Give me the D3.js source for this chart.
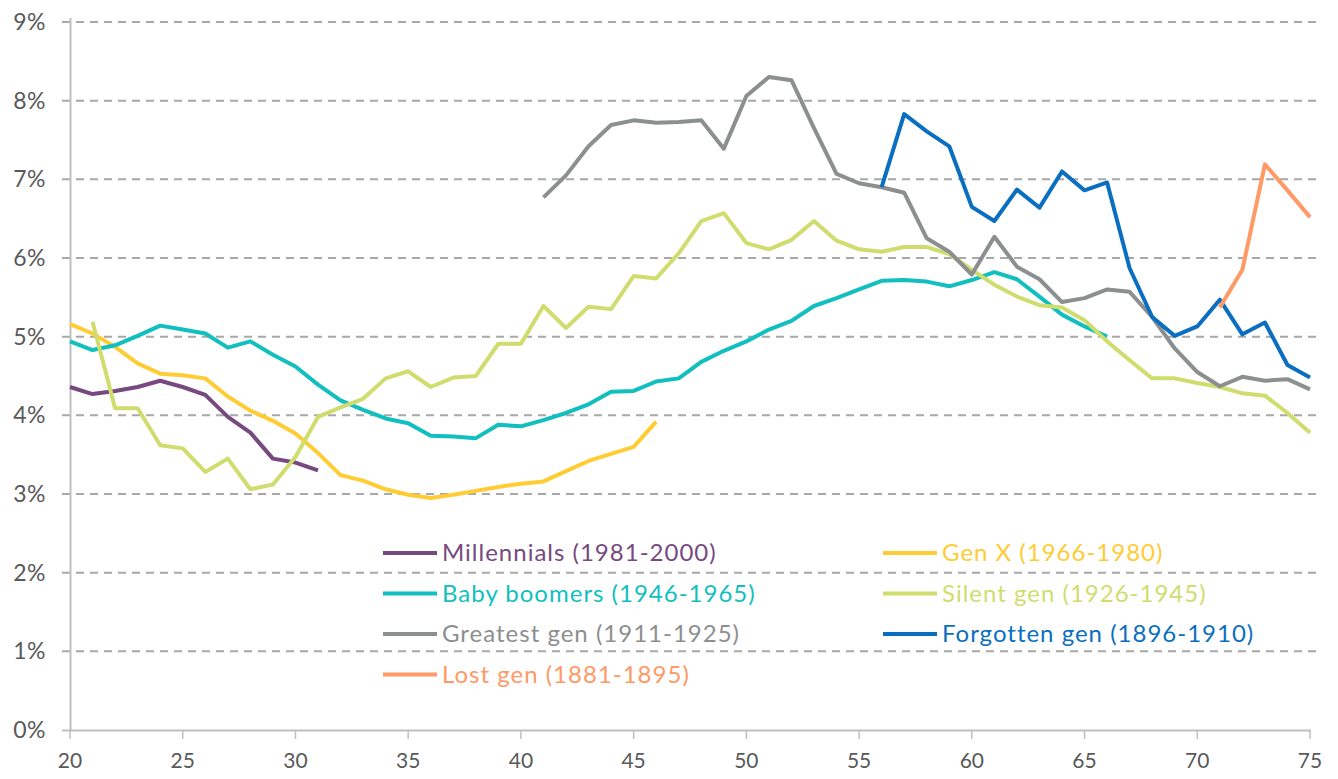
<!DOCTYPE html>
<html>
<head>
<meta charset="utf-8">
<script src="https://cdn.jsdelivr.net/npm/d3@7"></script>
<style>
  body { margin: 0; background: #fff; }
  svg text { font-family: Lato, "Open Sans", sans-serif; }
</style>
</head>
<body>
<div id="chart"></div>
<script>
// ages on the x axis, values are % per generation
var xTicks = [20, 25, 30, 35, 40, 45, 50, 55, 60, 65, 70, 75];
var yTicks = [0, 1, 2, 3, 4, 5, 6, 7, 8, 9];

var millennialsStart = 20;
var millennials = [4.36, 4.27, 4.31, 4.36, 4.44, 4.36, 4.26, 3.98, 3.78, 3.45, 3.40, 3.30];

var genXStart = 20;
var genX = [5.16, 5.04, 4.87, 4.66, 4.53, 4.51, 4.47, 4.24, 4.06, 3.93, 3.77, 3.52, 3.24, 3.17, 3.06, 2.99,
  2.95, 2.99, 3.04, 3.09, 3.13, 3.16, 3.29, 3.42, 3.51, 3.60, 3.92];

var boomersStart = 20;
var boomers = [4.94, 4.83, 4.89, 5.01, 5.14, 5.09, 5.04, 4.86, 4.94, 4.77, 4.62, 4.39, 4.19, 4.07, 3.96, 3.90,
  3.74, 3.73, 3.71, 3.88, 3.86, 3.94, 4.03, 4.14, 4.30, 4.31, 4.43, 4.47, 4.68, 4.82, 4.94, 5.09, 5.20,
  5.39, 5.49, 5.60, 5.71, 5.72, 5.70, 5.64, 5.72, 5.82, 5.73, 5.51, 5.28, 5.13, 5.00];

var silentStart = 21;
var silent = [5.19, 4.09, 4.09, 3.62, 3.58, 3.28, 3.45, 3.06, 3.12, 3.47, 3.98, 4.10, 4.21, 4.47, 4.56,
  4.36, 4.48, 4.50, 4.91, 4.91, 5.39, 5.11, 5.38, 5.35, 5.77, 5.74, 6.06, 6.47, 6.57, 6.19, 6.11, 6.23,
  6.47, 6.22, 6.11, 6.08, 6.14, 6.14, 6.05, 5.85, 5.66, 5.51, 5.40, 5.37, 5.21, 4.94, 4.70, 4.47, 4.47,
  4.41, 4.36, 4.28, 4.25, 4.03, 3.78];

var greatestStart = 41;
var greatest = [6.77, 7.05, 7.42, 7.69, 7.75, 7.72, 7.73, 7.75, 7.39, 8.06, 8.30, 8.26, 7.65, 7.07, 6.95,
  6.90, 6.83, 6.25, 6.08, 5.79, 6.27, 5.89, 5.73, 5.44, 5.49, 5.60, 5.57, 5.25, 4.85, 4.55, 4.37, 4.49,
  4.44, 4.46, 4.33];

var forgottenStart = 56;
var forgotten = [6.90, 7.83, 7.61, 7.42, 6.65, 6.47, 6.87, 6.64, 7.10, 6.86, 6.96, 5.87, 5.25, 5.01, 5.13,
  5.47, 5.03, 5.18, 4.64, 4.48];

var lostStart = 71;
var lost = [5.37, 5.85, 7.19, 6.86, 6.52];

var names = ["Millennials (1981-2000)", "Gen X (1966-1980)", "Baby boomers (1946-1965)", "Silent gen (1926-1945)",
  "Greatest gen (1911-1925)", "Forgotten gen (1896-1910)", "Lost gen (1881-1895)"];
var colors = ["#76497F", "#FFCC33", "#11BFBF", "#CFDD6E", "#8C8F8F", "#0A6FC0", "#FF9965"];

var series = [
  {start: millennialsStart, vals: millennials},
  {start: genXStart, vals: genX},
  {start: boomersStart, vals: boomers},
  {start: silentStart, vals: silent},
  {start: greatestStart, vals: greatest},
  {start: forgottenStart, vals: forgotten},
  {start: lostStart, vals: lost}
];

var width = 1338, height = 779;
var svg = d3.select("#chart").append("svg").attr("width", width).attr("height", height);

var x = d3.scaleLinear().domain([20, 75]).range([70, 1310]);
var y = d3.scaleLinear().domain([0, 9]).range([730, 22]);

// gridlines (dashed) + y tick marks
svg.append("g").selectAll("line").data(yTicks.filter(function(d) { return d > 0; })).enter().append("line")
  .attr("x1", 62).attr("x2", 1322)
  .attr("y1", function(d) { return y(d); }).attr("y2", function(d) { return y(d); })
  .attr("stroke", "#A8A8A8").attr("stroke-width", 2).attr("stroke-dasharray", "8,6");

// y axis
svg.append("line").attr("x1", 70.5).attr("x2", 70.5).attr("y1", 18).attr("y2", 730)
  .attr("stroke", "#BFBFBF").attr("stroke-width", 2);
// x axis
svg.append("line").attr("x1", 62).attr("x2", 1311).attr("y1", 730.5).attr("y2", 730.5)
  .attr("stroke", "#BFBFBF").attr("stroke-width", 2);

svg.append("g").selectAll("line").data(xTicks).enter().append("line")
  .attr("x1", function(d) { return x(d); }).attr("x2", function(d) { return x(d); })
  .attr("y1", 730).attr("y2", 739)
  .attr("stroke", "#BFBFBF").attr("stroke-width", 1.5);

svg.append("g").selectAll("text").data(yTicks).enter().append("text")
  .attr("x", 46).attr("y", function(d) { return y(d) + 8; })
  .attr("text-anchor", "end").attr("fill", "#595959").style("font-size", "23px")
  .style("letter-spacing", "0.5px")
  .text(function(d) { return d + "%"; });

svg.append("g").selectAll("text").data(xTicks).enter().append("text")
  .attr("x", function(d) { return x(d); }).attr("y", 768)
  .attr("text-anchor", "middle").attr("fill", "#595959").style("font-size", "21px")
  .text(function(d) { return d; });

var line = d3.line()
  .x(function(d) { return x(d[0]); })
  .y(function(d) { return y(d[1]); });

// draw order roughly as in the original (later series on top)
series.forEach(function(s, i) {
  var pts = s.vals.map(function(v, j) { return [s.start + j, v]; });
  svg.append("path").datum(pts)
    .attr("d", line)
    .attr("fill", "none")
    .attr("stroke", colors[i])
    .attr("stroke-width", 4)
    .attr("stroke-linejoin", "round");
});

// legend, two columns
var legend = svg.append("g").selectAll("g").data(names).enter().append("g")
  .attr("transform", function(d, i) {
    return "translate(" + (i % 2 === 0 ? 383 : 883) + "," + (553 + Math.floor(i / 2) * 40.5) + ")";
  });
legend.append("line").attr("x1", 0).attr("x2", 54).attr("y1", 0).attr("y2", 0)
  .attr("stroke", function(d, i) { return colors[i]; }).attr("stroke-width", 4);
legend.append("text").attr("x", 59).attr("y", 8)
  .attr("fill", function(d, i) { return colors[i]; }).style("font-size", "24px")
  .style("letter-spacing", "1px")
  .text(function(d) { return d; });
</script>
</body>
</html>
